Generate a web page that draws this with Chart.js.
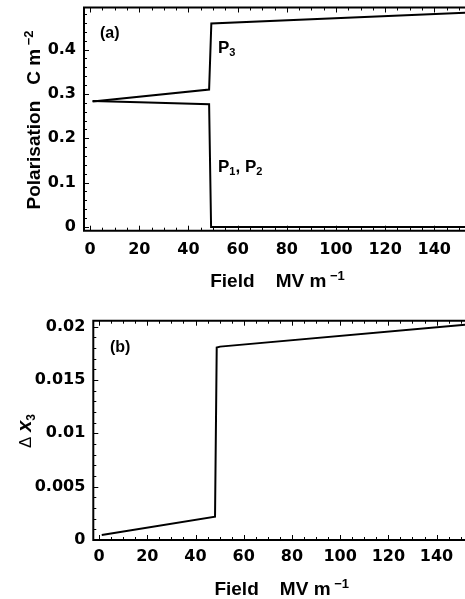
<!DOCTYPE html>
<html>
<head>
<meta charset="utf-8">
<script src="https://cdn.jsdelivr.net/npm/chart.js@4.4.1/dist/chart.umd.min.js"></script>
<style>
  html, body { margin: 0; padding: 0; background: #fff; overflow: hidden; }
  .panel { position: absolute; left: 0; width: 465px; }
  #panelA { top: 0; height: 300px; }
  #panelB { top: 300px; height: 299px; }
</style>
</head>
<body>
<div class="panel" id="panelA"><canvas id="chartA"></canvas></div>
<div class="panel" id="panelB"><canvas id="chartB"></canvas></div>
<script>
// ── DATA ─────────────────────────────────────────────
// (a) polarisation vs field
const fieldP3 = [1, 48.4, 49.3, 152.5];
const polP3 = [0.283, 0.310, 0.459, 0.483];
const fieldP12 = [1, 20, 48.4, 49.2, 152.5];
const polP12 = [0.284, 0.281, 0.277, 0, 0];
const xTicksA = [0, 20, 40, 60, 80, 100, 120, 140];
const yTicksA = [0, 0.1, 0.2, 0.3, 0.4];
const yLabelsA = ['0', '0.1', '0.2', '0.3', '0.4'];

// (b) strain vs field
const fieldDx = [1.1, 48.1, 48.8, 50.2, 151.8];
const dx3 = [0.00047, 0.00219, 0.01804, 0.01813, 0.02017];
const xTicksB = [0, 20, 40, 60, 80, 100, 120, 140];
const yTicksB = [0, 0.005, 0.01, 0.015, 0.02];
const yLabelsB = ['0', '0.005', '0.01', '0.015', '0.02'];

// ── HELPERS ──────────────────────────────────────────
const pts = (xs, ys) => xs.map((x, i) => ({ x, y: ys[i] }));
const tickFont = { family: 'DejaVu Sans', weight: 'bold', size: 16 };
const LB = s => `bold ${s}px "Liberation Sans"`;

// draw a run of text pieces [text, font, rise]; x,y = anchor on baseline
function richText(ctx, item) {
  ctx.save();
  ctx.translate(item.x, item.y);
  if (item.rot) ctx.rotate(item.rot);
  let w = 0;
  item.parts.forEach(p => { ctx.font = p[1]; w += ctx.measureText(p[0]).width; });
  let cx = item.align === 'left' ? 0 : -w / 2;
  ctx.fillStyle = '#000';
  ctx.textBaseline = 'alphabetic';
  item.parts.forEach(p => {
    ctx.font = p[1];
    ctx.fillText(p[0], cx, -(p[2] || 0));
    cx += ctx.measureText(p[0]).width;
  });
  ctx.restore();
}

// frame with inward ticks + rich text labels
const framePlugin = {
  id: 'frame',
  afterDraw(chart, args, o) {
    const { ctx, chartArea: a, scales: { x, y } } = chart;
    ctx.save();
    ctx.strokeStyle = '#000';
    ctx.lineWidth = 2;
    ctx.beginPath();
    ctx.moveTo(a.right + 2, a.top);
    ctx.lineTo(a.left, a.top);
    ctx.lineTo(a.left, a.bottom);
    ctx.lineTo(a.right + 2, a.bottom);
    ctx.stroke();

    ctx.lineWidth = 1;
    ctx.beginPath();
    const isMajor = (v, step) => Math.abs(v / step - Math.round(v / step)) < 1e-6;
    for (let v = Math.ceil(x.min / o.xMinor) * o.xMinor; v <= x.max; v += o.xMinor) {
      const px = Math.round(x.getPixelForValue(v)) + 0.5;
      const len = isMajor(v, o.xMajor) ? 5 : 3;
      ctx.moveTo(px, a.bottom); ctx.lineTo(px, a.bottom - len);
      ctx.moveTo(px, a.top); ctx.lineTo(px, a.top + len);
    }
    for (let i = Math.ceil(y.min / o.yMinor); i * o.yMinor <= y.max; i++) {
      const v = i * o.yMinor;
      const py = Math.round(y.getPixelForValue(v)) + 0.5;
      const len = isMajor(v, o.yMajor) ? 5 : 3;
      ctx.moveTo(a.left, py); ctx.lineTo(a.left + len, py);
    }
    ctx.stroke();
    ctx.restore();

    o.texts.forEach(t => richText(ctx, t));
  }
};

function makeChart(id, cfg) {
  return new Chart(document.getElementById(id), {
    type: 'line',
    data: {
      datasets: cfg.series.map(s => ({
        data: s,
        borderColor: '#000',
        borderWidth: 2,
        pointRadius: 0,
        tension: 0,
        fill: false,
      }))
    },
    options: {
      responsive: true,
      maintainAspectRatio: false,
      animation: false,
      events: [],
      layout: { padding: { top: cfg.top, left: 0, right: 0, bottom: 0 } },
      plugins: {
        legend: { display: false },
        tooltip: { enabled: false },
        frame: cfg.frame,
      },
      scales: {
        x: {
          type: 'linear',
          min: cfg.xMin, max: cfg.xMax,
          grid: { display: false, drawTicks: false },
          border: { display: false },
          afterBuildTicks: s => { s.ticks = cfg.xTicks.map(v => ({ value: v })); },
          afterFit: s => { s.height = cfg.xAxisH; s.paddingLeft = 0; s.paddingRight = 0; },
          ticks: {
            color: '#000', font: tickFont, padding: cfg.xPad,
            maxRotation: 0, autoSkip: false,
            callback: v => String(v),
          },
        },
        y: {
          type: 'linear',
          min: cfg.yMin, max: cfg.yMax,
          grid: { display: false, drawTicks: false },
          border: { display: false },
          afterBuildTicks: s => { s.ticks = cfg.yTicks.map(v => ({ value: v })); },
          afterFit: s => { s.width = cfg.yAxisW; s.paddingTop = 0; s.paddingBottom = 0; },
          ticks: {
            color: '#000', font: tickFont, padding: 8, autoSkip: false,
            callback: (v, i) => cfg.yLabels[i],
          },
        },
      },
    },
    plugins: [framePlugin],
  });
}

// ── (a) ──────────────────────────────────────────────
makeChart('chartA', {
  series: [pts(fieldP3, polP3), pts(fieldP12, polP12)],
  xMin: -2.5, xMax: 152.5, yMin: -0.0085, yMax: 0.495,
  xTicks: xTicksA, yTicks: yTicksA, yLabels: yLabelsA,
  top: 7.5, xAxisH: 69.3, yAxisW: 84, xPad: 10,
  frame: {
    xMinor: 5, xMajor: 20, yMinor: 0.02, yMajor: 0.1,
    texts: [
      { x: 100, y: 38, align: 'left', parts: [['(a)', LB(16)]] },
      { x: 218, y: 53, align: 'left', parts: [['P', LB(17)], ['3', LB(11), -3]] },
      { x: 218, y: 172, align: 'left', parts: [['P', LB(17)], ['1', LB(11), -3], [', P', LB(17)], ['2', LB(11), -3]] },
      { x: 277.5, y: 287, parts: [['Field    MV m', LB(19)], [' \u22121', LB(13), 7]] },
      { x: 39.5, y: 120, rot: -Math.PI / 2, parts: [['Polarisation   C m', LB(19)], [' \u22122', LB(13), 7]] },
    ],
  },
});

// ── (b) ──────────────────────────────────────────────
makeChart('chartB', {
  series: [pts(fieldDx, dx3)],
  xMin: -2.4, xMax: 151.8, yMin: 0, yMax: 0.02056,
  xTicks: xTicksB, yTicks: yTicksB, yLabels: yLabelsB,
  top: 20.7, xAxisH: 59, yAxisW: 93.3, xPad: 7,
  frame: {
    xMinor: 5, xMajor: 20, yMinor: 0.001, yMajor: 0.005,
    texts: [
      { x: 110, y: 52, align: 'left', parts: [['(b)', LB(16)]] },
      { x: 281.7, y: 295, parts: [['Field    MV m', LB(19)], [' \u22121', LB(13), 7]] },
      { x: 31, y: 131, rot: -Math.PI / 2, parts: [['\u0394 ', '17px "Liberation Sans"'], ['x', 'italic bold 20px "Liberation Sans"'], ['3', LB(12), -4]] },
    ],
  },
});
</script>
</body>
</html>
